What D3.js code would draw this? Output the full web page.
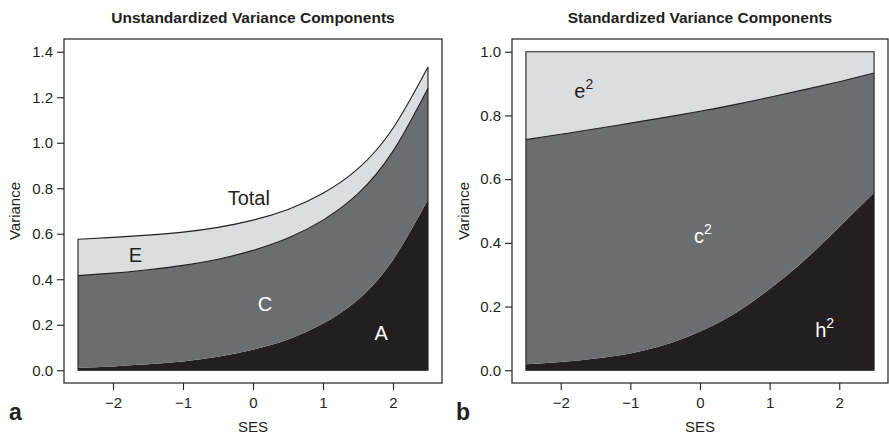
<!DOCTYPE html>
<html>
<head>
<meta charset="utf-8">
<script src="https://cdn.jsdelivr.net/npm/d3@7"></script>
<style>
  body { margin: 0; background: #fff; }
  svg text { font-family: "Liberation Sans", Arial, sans-serif; fill: #231f20; }
</style>
</head>
<body>
<div id="chart"></div>
<script>
var ses = [-2.5, -2, -1.5, -1, -0.5, 0, 0.5, 1, 1.5, 2, 2.5];

// panel a: unstandardized components (stacked A, C, E)
var unstdA = [0.011, 0.017, 0.026, 0.039, 0.059, 0.090, 0.135, 0.205, 0.310, 0.485, 0.750];
var unstdC = [0.405, 0.410, 0.416, 0.422, 0.429, 0.437, 0.446, 0.455, 0.466, 0.478, 0.490];
var unstdE = [0.160, 0.157, 0.152, 0.146, 0.140, 0.133, 0.126, 0.118, 0.110, 0.101, 0.093];

// panel b: standardized components (h2, c2, e2)
var stdH2 = [0.019, 0.026, 0.037, 0.053, 0.080, 0.122, 0.178, 0.255, 0.345, 0.450, 0.557];
var stdC2 = [0.705, 0.715, 0.721, 0.723, 0.714, 0.691, 0.656, 0.602, 0.536, 0.456, 0.376];
var stdE2 = [0.276, 0.259, 0.242, 0.224, 0.206, 0.187, 0.166, 0.143, 0.119, 0.094, 0.067];

var xTicks = [-2, -1, 0, 1, 2];
var yTicksA = [0, 0.2, 0.4, 0.6, 0.8, 1.0, 1.2, 1.4];
var yTicksB = [0, 0.2, 0.4, 0.6, 0.8, 1.0];

var colLight = "#dcdddf", colMid = "#6c6d6f", colDark = "#231f20";

var svg = d3.select("#chart")
  .append("svg")
    .attr("width", 889)
    .attr("height", 435);

function panel(opt) {
  var x = d3.scaleLinear().domain([-2.7, 2.7]).range([opt.left, opt.right]);
  var y = d3.scaleLinear().domain(opt.yDomain).range([383, 39]);

  var rows = ses.map(function(s, i) {
    var r = {ses: s};
    opt.keys.forEach(function(k, j) { r[k] = opt.series[j][i]; });
    return r;
  });
  var stacked = d3.stack().keys(opt.keys)(rows);
  var fills = [colDark, colMid, colLight];

  var area = d3.area()
    .x(function(d) { return x(d.data.ses); })
    .y0(function(d) { return y(d[0]); })
    .y1(function(d) { return y(d[1]); })
    .curve(d3.curveNatural);

  var g = svg.append("g");

  g.selectAll("path.layer")
    .data(stacked)
    .enter()
    .append("path")
      .attr("class", "layer")
      .attr("d", area)
      .attr("fill", function(d, i) { return fills[i]; });

  // outline around the whole stack
  var top = stacked[stacked.length - 1];
  var outline = d3.area()
    .x(function(d) { return x(d.data.ses); })
    .y0(y(0))
    .y1(function(d) { return y(d[1]); })
    .curve(d3.curveNatural);
  g.append("path")
    .attr("d", outline(top))
    .attr("fill", "none")
    .attr("stroke", colDark)
    .attr("stroke-width", 1.1);

  // line between the middle and top layer
  var line = d3.line()
    .x(function(d) { return x(d.data.ses); })
    .y(function(d) { return y(d[1]); })
    .curve(d3.curveNatural);
  g.append("path")
    .attr("d", line(stacked[1]))
    .attr("fill", "none")
    .attr("stroke", colDark)
    .attr("stroke-width", 1.1);

  // box
  g.append("rect")
    .attr("x", opt.left)
    .attr("y", 39)
    .attr("width", opt.right - opt.left)
    .attr("height", 344)
    .attr("fill", "none")
    .attr("stroke", colDark)
    .attr("stroke-width", 1.2);

  // axes
  var xa = g.append("g")
    .attr("transform", "translate(0,383)")
    .call(d3.axisBottom(x).tickValues(xTicks).tickSize(7).tickPadding(7)
      .tickFormat(d3.format("d")));
  var ya = g.append("g")
    .attr("transform", "translate(" + opt.left + ",0)")
    .call(d3.axisLeft(y).tickValues(opt.yTicks).tickSize(7).tickPadding(4)
      .tickFormat(d3.format(".1f")));
  [xa, ya].forEach(function(a) {
    a.select(".domain").remove();
    a.selectAll("line").attr("stroke", colDark).attr("stroke-width", 1.1);
    a.selectAll("text").style("font-size", "15px").attr("fill", colDark)
      .style("font-family", '"Liberation Sans", Arial, sans-serif');
  });

  var cx = x(0);
  // title
  g.append("text")
    .attr("x", cx)
    .attr("y", 23)
    .attr("text-anchor", "middle")
    .style("font-size", "15.5px")
    .style("font-weight", "bold")
    .text(opt.title);

  // axis labels
  g.append("text")
    .attr("x", cx)
    .attr("y", 432)
    .attr("text-anchor", "middle")
    .style("font-size", "15px")
    .text("SES");
  g.append("text")
    .attr("transform", "translate(" + opt.yLabelX + ",211) rotate(-90)")
    .attr("text-anchor", "middle")
    .style("font-size", "15px")
    .text("Variance");

  // panel letter
  g.append("text")
    .attr("x", opt.letterX)
    .attr("y", 420)
    .style("font-size", "23px")
    .style("font-weight", "bold")
    .text(opt.letter);

  // component labels
  opt.labels.forEach(function(l) {
    var t = g.append("text")
      .attr("x", x(l.s))
      .attr("y", y(l.v))
      .attr("text-anchor", "middle")
      .style("font-size", "20px")
      .style("fill", l.color);
    t.append("tspan").text(l.text);
    if (l.sup) {
      t.append("tspan")
        .attr("dy", -9)
        .style("font-size", "14px")
        .text(l.sup);
    }
  });
}

panel({
  left: 64, right: 442,
  yDomain: [-0.056, 1.456],
  yTicks: yTicksA,
  keys: ["A", "C", "E"],
  series: [unstdA, unstdC, unstdE],
  title: "Unstandardized Variance Components",
  yLabelX: 20,
  letter: "a", letterX: 9,
  labels: [
    {text: "Total", s: -0.06, v: 0.725, color: colDark},
    {text: "E", s: -1.68, v: 0.475, color: colDark},
    {text: "C", s: 0.17, v: 0.26, color: "#fff"},
    {text: "A", s: 1.83, v: 0.133, color: "#fff"}
  ]
});

panel({
  left: 512, right: 888,
  yDomain: [-0.04, 1.04],
  yTicks: yTicksB,
  keys: ["h2", "c2", "e2"],
  series: [stdH2, stdC2, stdE2],
  title: "Standardized Variance Components",
  yLabelX: 469,
  letter: "b", letterX: 456,
  labels: [
    {text: "e", sup: "2", s: -1.67, v: 0.856, color: colDark},
    {text: "c", sup: "2", s: 0.04, v: 0.401, color: "#fff"},
    {text: "h", sup: "2", s: 1.79, v: 0.103, color: "#fff"}
  ]
});
</script>
</body>
</html>
